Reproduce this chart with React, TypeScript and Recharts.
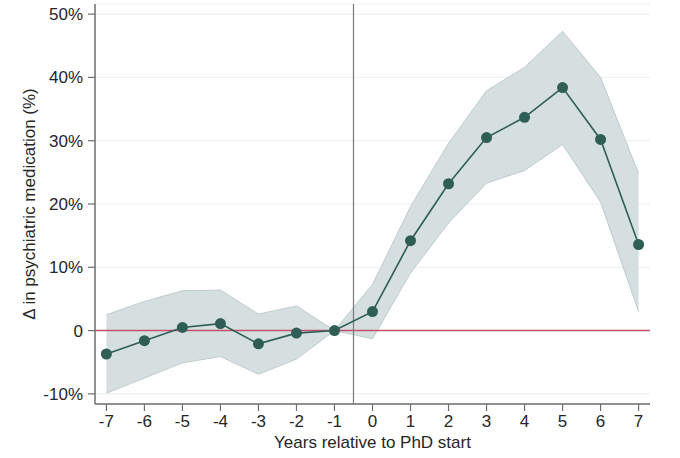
import React from 'react'
import {
  ComposedChart,
  Area,
  Line,
  XAxis,
  YAxis,
  CartesianGrid,
  ReferenceLine,
} from 'recharts'

const years = [-7, -6, -5, -4, -3, -2, -1, 0, 1, 2, 3, 4, 5, 6, 7]
const estimate = [-3.7, -1.6, 0.5, 1.1, -2.1, -0.4, 0, 3.0, 14.2, 23.2, 30.5, 33.7, 38.4, 30.2, 13.6]
const ciLower = [-9.9, -7.5, -5.1, -4.1, -6.9, -4.5, 0, -1.3, 9.1, 17.0, 23.3, 25.3, 29.4, 20.3, 3.0]
const ciUpper = [2.5, 4.6, 6.3, 6.4, 2.6, 3.9, 0, 7.3, 19.6, 29.6, 37.9, 41.6, 47.3, 40.0, 24.8]
const yTicks = [-10, 0, 10, 20, 30, 40, 50]

const data = years.map((year, i) => ({
  year,
  estimate: estimate[i],
  ci: [ciLower[i], ciUpper[i]],
}))

const MAIN = '#2e5e56'
const AXIS = '#6e6e6e'
const TEXT = '#262626'
const FONT = '"Liberation Sans", Arial, sans-serif'

export default function App() {
  return (
    <div style={{ position: 'absolute', left: 0, top: 0, background: '#fff' }}>
      <ComposedChart
        width={680}
        height={458}
        data={data}
        margin={{ top: 4, right: 30, left: 0, bottom: 0 }}
        style={{ fontFamily: FONT }}
      >
        <CartesianGrid vertical={false} stroke="#eef1f1" strokeWidth={1.2} />
        <XAxis
          dataKey="year"
          type="number"
          domain={[-7.3, 7.3]}
          ticks={years}
          height={54}
          tickSize={7}
          tickMargin={4}
          tick={{ fontSize: 17, fill: TEXT }}
          axisLine={{ stroke: AXIS, strokeWidth: 1.5 }}
          tickLine={{ stroke: AXIS, strokeWidth: 1.2 }}
          label={{
            value: 'Years relative to PhD start',
            position: 'insideBottom',
            offset: 10,
            style: { fontSize: 17, fill: TEXT },
          }}
        />
        <YAxis
          type="number"
          domain={[-11.6, 51.6]}
          ticks={yTicks}
          width={95}
          tickSize={7}
          tickMargin={5}
          tickFormatter={(v: number) => (v === 0 ? '0' : `${v}%`)}
          tick={{ fontSize: 17, fill: TEXT }}
          axisLine={{ stroke: AXIS, strokeWidth: 1.5 }}
          tickLine={{ stroke: AXIS, strokeWidth: 1.2 }}
          label={{
            value: 'Δ in psychiatric medication (%)',
            angle: -90,
            position: 'insideLeft',
            offset: 29,
            style: { fontSize: 17, fill: TEXT, textAnchor: 'middle' },
          }}
        />
        <Area
          dataKey="ci"
          type="linear"
          stroke="#bfcccc"
          strokeWidth={1}
          fill="#d5dfe0"
          fillOpacity={1}
          isAnimationActive={false}
          activeDot={false}
        />
        <ReferenceLine y={0} stroke="#c4506a" strokeWidth={1.5} />
        <ReferenceLine x={-0.5} stroke="#7a7a7a" strokeWidth={1.2} />
        <Line
          dataKey="estimate"
          type="linear"
          stroke={MAIN}
          strokeWidth={1.6}
          dot={{ r: 5.5, fill: MAIN, stroke: MAIN, strokeWidth: 0 }}
          activeDot={false}
          isAnimationActive={false}
        />
      </ComposedChart>
    </div>
  )
}
